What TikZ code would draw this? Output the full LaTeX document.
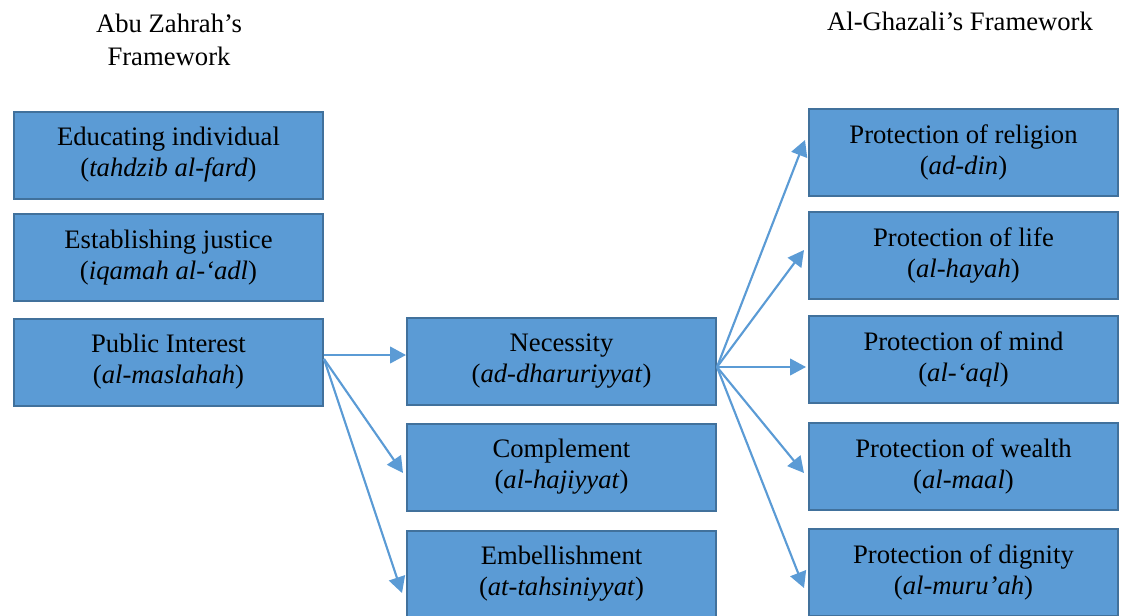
\documentclass[tikz,border=0pt]{standalone}
\usepackage{fontspec}
\setmainfont{Liberation Serif}
\usetikzlibrary{arrows.meta,calc}
\definecolor{boxfill}{HTML}{5B9BD5}
\definecolor{boxedge}{HTML}{41719C}
\definecolor{arrowcol}{HTML}{5B9BD5}
\tikzset{
  fbox/.style={draw=boxedge, fill=boxfill, line width=1.5pt, inner sep=0pt,
    minimum width=231.75pt, minimum height=65.25pt, align=center,
    font=\fontsize{20}{23.25}\selectfont},
  ttl/.style={align=center, inner sep=0pt, font=\fontsize{20}{24.75}\selectfont},
  conn/.style={draw=arrowcol, line width=1.6pt, -{Triangle[length=12pt,width=12.5pt]}}
}
\begin{document}
\begin{tikzpicture}[x=0.75pt,y=-0.75pt]
\useasboundingbox (0,0) rectangle (1122,615);
% titles
\node[ttl] (tleft) at (169,40) {Abu Zahrah’s\\Framework};
\node[ttl] (tright) at (960,21) {Al-Ghazali’s Framework};
% left column
\node[fbox] (edu) at (168.5,155) {Educating individual\\(\textit{tahdzib al-fard})};
\node[fbox] (jus) at (168.5,257.5) {Establishing justice\\(\textit{iqamah al-‘adl})};
\node[fbox] (pub) at (168.5,362) {Public Interest\\(\textit{al-maslahah})};
% middle column
\node[fbox] (nec) at (561.5,361.5) {Necessity\\(\textit{ad-dharuriyyat})};
\node[fbox] (com) at (561.5,467) {Complement\\(\textit{al-hajiyyat})};
\node[fbox] (emb) at (561.5,574) {Embellishment\\(\textit{at-tahsiniyyat})};
% right column
\node[fbox] (rel) at (963.5,152.5) {Protection of religion\\(\textit{ad-din})};
\node[fbox] (lif) at (963.5,255) {Protection of life\\(\textit{al-hayah})};
\node[fbox] (min) at (963.5,359.5) {Protection of mind\\(\textit{al-‘aql})};
\node[fbox] (wea) at (963.5,466) {Protection of wealth\\(\textit{al-maal})};
\node[fbox] (dig) at (963.5,572) {Protection of dignity\\(\textit{al-muru’ah})};
% connector end points
\coordinate (pubh) at ($(pub.east)+(0,-7)$);
\coordinate (pubd) at ($(pub.east)+(0,-3)$);
\coordinate (necin) at ($(nec.west)+(0,-6.5)$);
\coordinate (comin) at ($(com.west)+(-3,6)$);
\coordinate (embin) at ($(emb.west)+(-4,19)$);
\coordinate (necout) at ($(nec.east)+(0,5.5)$);
\coordinate (relin) at ($(rel.west)+(-3,-12.5)$);
\coordinate (lifin) at ($(lif.west)+(-4,-5)$);
\coordinate (minin) at ($(min.west)+(-2,7.5)$);
\coordinate (weain) at ($(wea.west)+(-4,7)$);
\coordinate (digin) at ($(dig.west)+(-4,16)$);
% connectors
\draw[conn] (pubh) -- (necin);
\draw[conn] (pubd) -- (comin);
\draw[conn] (pubd) -- (embin);
\draw[conn] (necout) -- (relin);
\draw[conn] (necout) -- (lifin);
\draw[conn] (necout) -- (minin);
\draw[conn] (necout) -- (weain);
\draw[conn] (necout) -- (digin);
\end{tikzpicture}
\end{document}
